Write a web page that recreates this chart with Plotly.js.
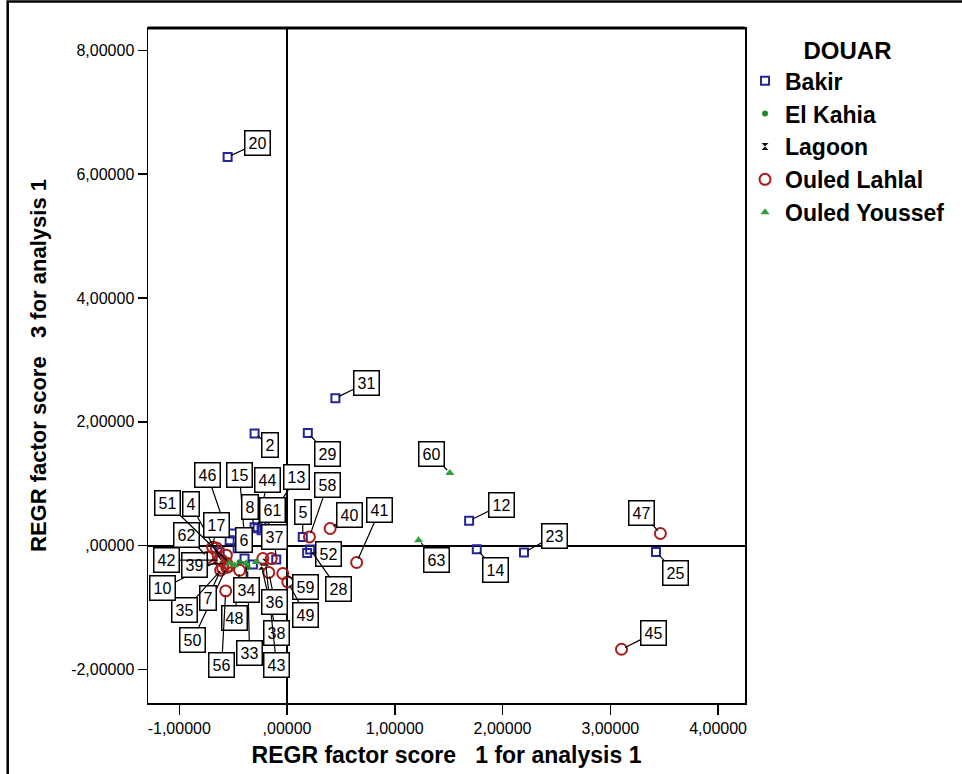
<!DOCTYPE html>
<html>
<head>
<meta charset="utf-8">
<script src="https://cdn.plot.ly/plotly-3.0.1.min.js"></script>
<style>
  html, body { margin: 0; padding: 0; background: #ffffff; }
  #chart { width: 962px; height: 774px; }
</style>
</head>
<body>
<div id="chart"></div>
<script>
// ---------------- DATA ----------------
const groupNames = ['Bakir', 'El Kahia', 'Lagoon', 'Ouled Lahlal', 'Ouled Youssef'];

const bakirLabels = ['20','31','29','2','12','14','23','25','5','52','28','46','15','44','13','8','61','6','37','','','',''];
const bakirX = [-0.551, 0.449, 0.193, -0.301, 1.690, 1.761, 2.199, 3.424, 0.146, 0.187, 0.215, -0.532, -0.394, -0.273, -0.208, -0.301, -0.236, -0.458, -0.100, -0.502, -0.394, -0.317, -0.625];
const bakirY = [6.276, 2.383, 1.822, 1.813, 0.401, -0.057, -0.110, -0.100, 0.142, -0.116, -0.060, 0.089, 0.121, 0.283, 0.315, 0.299, 0.250, -0.040, -0.223, 0.197, -0.207, -0.304, -0.105];

const elKahiaLabels = ['4', '33', ''];
const elKahiaX = [-0.597, -0.366, -0.440];
const elKahiaY = [-0.283, -0.347, -0.267];

const lagoonLabels = ['38', '43'];
const lagoonX = [-0.236, -0.199];
const lagoonY = [-0.331, -0.267];

const lahlalLabels = ['47','45','40','41','58','59','49','36','48','56','50','7','35','10','39','42','62','17','','','','',''];
const lahlalX = [3.465, 3.104, 0.400, 0.646, 0.208, -0.039, 0.007, -0.169, -0.440, -0.569, -0.560, -0.616, -0.597, -0.625, -0.560, -0.606, -0.736, -0.690, -0.656, -0.563, -0.548, -0.146, -0.224];
const lahlalY = [0.197, -1.672, 0.278, -0.271, 0.142, -0.449, -0.585, -0.433, -0.396, -0.730, -0.347, -0.396, -0.363, -0.234, -0.283, -0.234, -0.186, -0.024, -0.036, -0.153, -0.342, -0.207, -0.207];

const youssefLabels = ['60', '63', '34', '51', '', ''];
const youssefX = [1.511, 1.221, -0.378, -0.532, -0.486, -0.285];
const youssefY = [1.176, 0.089, -0.283, -0.283, -0.315, -0.262];

const xTickVals = [-1, 0, 1, 2, 3, 4];
const xTickText = ['-1,00000', ',00000', '1,00000', '2,00000', '3,00000', '4,00000'];
const yTickVals = [-2, 0, 2, 4, 6, 8];
const yTickText = ['-2,00000', ',00000', '2,00000', '4,00000', '6,00000', '8,00000'];

// ---------------- LABEL PLACEMENT (pixel offsets of the case-label boxes) ----------------
const labelOffsets = {
  '20': [30, -14], '31': [31, -15], '29': [20, 21], '2': [15, 12], '60': [-18, -19],
  '12': [32, -16], '63': [18, 20], '14': [19, 21], '23': [31, -17], '47': [-19, -21],
  '25': [20, 21], '45': [32, -16], '40': [19, -13], '41': [23, -52], '5': [0, -25],
  '58': [18, -52], '52': [21, 1], '28': [28, 40], '59': [23, 13], '49': [18, 33],
  '36': [6, 29], '38': [15, 67], '43': [11, 103], '33': [2, 86], '34': [0, 27],
  '48': [-5, 48], '56': [-4, 74], '50': [-34, 73], '7': [-13, 28], '35': [-38, 42],
  '10': [-57, 28], '39': [-32, 2], '42': [-55, 0], '62': [-21, -22], '17': [4, -22],
  '4': [-32, -59], '51': [-62, -60], '46': [-22, -65], '15': [-5, -63], '44': [10, -48],
  '13': [32, -49], '8': [-5, -20], '61': [11, -20], '6': [6, -8], '37': [-2, -23]
};

// ---------------- TRACES ----------------
const baseFont = 'Liberation Sans, Arial, sans-serif';

const groups = [
  { name: groupNames[0], labels: bakirLabels, x: bakirX, y: bakirY,
    marker: { symbol: 'square-open', size: 8, color: '#25259a', line: { width: 2, color: '#25259a' } } },
  { name: groupNames[1], labels: elKahiaLabels, x: elKahiaX, y: elKahiaY,
    marker: { symbol: 'circle', size: 6, color: '#1c8a2c' } },
  { name: groupNames[2], labels: lagoonLabels, x: lagoonX, y: lagoonY,
    marker: { symbol: 'hourglass', size: 7, color: '#111111' } },
  { name: groupNames[3], labels: lahlalLabels, x: lahlalX, y: lahlalY,
    marker: { symbol: 'circle-open', size: 11, color: '#a81c1c', line: { width: 2, color: '#a81c1c' } } },
  { name: groupNames[4], labels: youssefLabels, x: youssefX, y: youssefY,
    marker: { symbol: 'triangle-up', size: 8, color: '#2e9e3e' } }
];

const traces = groups.map((g, i) => ({
  type: 'scatter',
  mode: 'markers',
  name: g.name,
  x: g.x,
  y: g.y,
  text: g.labels,
  marker: g.marker,
  legendgroup: 'g' + i,
  cliponaxis: false
}));

const annotations = [];
groups.forEach(g => {
  g.labels.forEach((lab, k) => {
    if (!lab) return;
    const off = labelOffsets[lab] || [20, -15];
    annotations.push({
      x: g.x[k], y: g.y[k], xref: 'x', yref: 'y',
      text: lab,
      showarrow: true, arrowhead: 0, arrowwidth: 1.2, arrowcolor: '#000000',
      standoff: 4,
      ax: off[0], ay: off[1],
      bgcolor: '#ffffff', bordercolor: '#000000', borderwidth: 1.5, borderpad: 3,
      font: { family: baseFont, size: 16, color: '#000000' }
    });
  });
});

const layout = {
  width: 962,
  height: 774,
  margin: { l: 148, r: 214, t: 28, b: 71 },
  paper_bgcolor: '#ffffff',
  plot_bgcolor: '#ffffff',
  font: { family: baseFont, color: '#000000' },
  showlegend: true,
  legend: {
    x: 1.0, xanchor: 'left', y: 1.0, yanchor: 'top',
    title: { text: 'DOUAR', side: 'top center', font: { family: baseFont, size: 24, weight: 'bold', color: '#000000' } },
    font: { family: baseFont, size: 23, weight: 'bold', color: '#000000' },
    tracegroupgap: 0,
    itemwidth: 30,
    bgcolor: 'rgba(0,0,0,0)'
  },
  xaxis: {
    range: [-1.29, 4.25],
    tickvals: xTickVals, ticktext: xTickText,
    ticks: 'outside', ticklen: 10, tickwidth: 1.5, tickcolor: '#000000',
    tickfont: { family: baseFont, size: 16, color: '#000000' },
    showline: true, linewidth: 1.5, linecolor: '#000000', mirror: true,
    showgrid: false,
    zeroline: true, zerolinewidth: 1.2, zerolinecolor: '#000000',
    title: { text: 'REGR factor score\u00a0\u00a0\u00a01 for analysis 1', standoff: 11,
             font: { family: baseFont, size: 23, weight: 'bold', color: '#000000' } }
  },
  yaxis: {
    range: [-2.54, 8.36],
    tickvals: yTickVals, ticktext: yTickText,
    ticks: 'outside', ticklen: 9, tickwidth: 1.5, tickcolor: '#000000',
    tickfont: { family: baseFont, size: 16, color: '#000000' },
    showline: true, linewidth: 1.5, linecolor: '#000000', mirror: true,
    showgrid: false,
    zeroline: true, zerolinewidth: 2, zerolinecolor: '#000000',
    title: { text: 'REGR factor score\u00a0\u00a0\u00a03 for analysis 1', standoff: 18,
             font: { family: baseFont, size: 22, weight: 'bold', color: '#000000' } }
  },
  shapes: [
    { type: 'line', xref: 'paper', yref: 'paper', x0: 0, x1: 1, y0: 1, y1: 1,
      line: { color: '#000000', width: 3 } },
    { type: 'rect', xref: 'paper', yref: 'paper', x0: -0.235, x1: 1.45, y0: -0.2, y1: 1.0393,
      line: { color: '#000000', width: 2.5 }, fillcolor: 'rgba(0,0,0,0)' }
  ],
  annotations: annotations
};

Plotly.newPlot('chart', traces, layout, { staticPlot: true, displayModeBar: false });
</script>
</body>
</html>
